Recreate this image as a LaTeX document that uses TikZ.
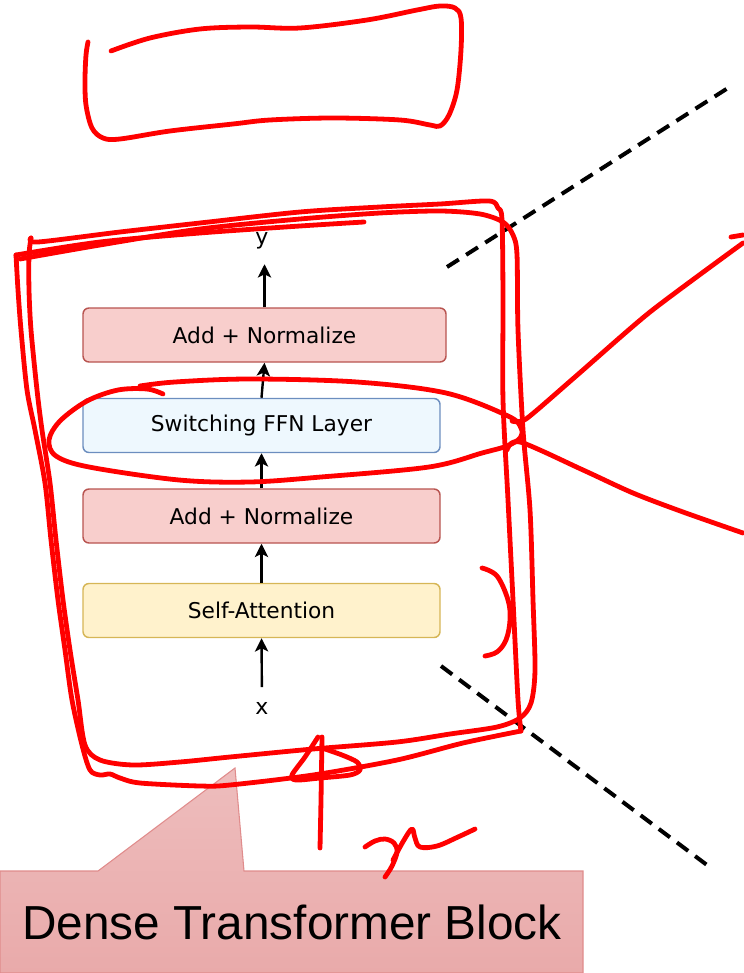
\documentclass[tikz,border=0pt]{standalone}
\usepackage{fontspec}
\setmainfont{DejaVu Sans}
\newfontfamily\calloutfont{Liberation Sans}
\usetikzlibrary{arrows.meta}

\definecolor{normfill}{HTML}{F8CECC}
\definecolor{normdraw}{HTML}{B85450}
\definecolor{ffnfill}{HTML}{EEF8FE}
\definecolor{ffndraw}{HTML}{6C8EBF}
\definecolor{attfill}{HTML}{FFF2CC}
\definecolor{attdraw}{HTML}{D6B656}
\definecolor{calltop}{HTML}{EEBDBD}
\definecolor{callbot}{HTML}{E9AAAA}
\definecolor{calldraw}{HTML}{E08C8C}
\definecolor{ink}{HTML}{FF0000}

\tikzset{
  layerbox/.style={rounded corners=4.5pt, line width=1.1pt, inner sep=0pt,
    minimum width=267.75pt, minimum height=40.5pt,
    font=\fontsize{16.3}{19}\selectfont},
  normbox/.style={layerbox, fill=normfill, draw=normdraw},
  ffnbox/.style={layerbox, fill=ffnfill, draw=ffndraw},
  attbox/.style={layerbox, fill=attfill, draw=attdraw},
  iolabel/.style={inner sep=0pt, font=\fontsize{16.5}{19}\selectfont},
  flow/.style={line width=1.8pt, -{Stealth[length=10pt, width=10pt, inset=2.5pt]}},
  zoomline/.style={line width=3pt, dash pattern=on 10.5pt off 6.5pt},
  inkstroke/.style={draw=ink, line width=3.6pt, line cap=round, line join=round},
}

\begin{document}
\begin{tikzpicture}[x=0.75pt, y=-0.75pt]
\useasboundingbox (0,0) rectangle (743,973);

% transformer block layers
\node[normbox, minimum width=272.25pt] (norm1) at (264.5,335) {Add + Normalize};
\node[ffnbox] (ffn) at (261.5,425.5) {Switching FFN Layer};
\node[normbox] (norm2) at (261.5,516) {Add + Normalize};
\node[attbox] (att) at (261.5,610.5) {Self-Attention};
\node[iolabel] (yout) at (262,241) {y};
\node[iolabel] (xin) at (262,708) {x};

\draw[flow, shorten <=11pt] (xin.north) -- (att.south);
\draw[flow] (att.north) -- (norm2.south);
\draw[flow] (norm2.north) -- (ffn.south);
\draw[flow] (ffn.north) -- (norm1.south);
\draw[flow, shorten >=11pt] (norm1.north) -- (norm1.north |- yout.south);

% zoom guide lines
\coordinate (zu0) at (447,267);
\coordinate (zu1) at (728,88);
\coordinate (zl0) at (441,666);
\coordinate (zl1) at (707,865);
\draw[zoomline] (zu0) -- (zu1);
\draw[zoomline] (zl0) -- (zl1);

% callout
\path[draw=calldraw, line width=0.8pt, top color=calltop, bottom color=callbot]
  (0,871) -- (98,871) -- (235,768) -- (244,871) -- (583,871) -- (583,973) -- (0,973) -- cycle;
\node[inner sep=0pt, font=\calloutfont\fontsize{35.8}{40}\selectfont] (callout) at (292,922) {Dense Transformer Block};

% hand-drawn annotations
\draw[inkstroke] plot[smooth, tension=0.55] coordinates {
  (111,51) (150,38) (200,29) (250,27) (300,28) (367,20) (417,10) (440,6) (455,8)
  (461,18) (461,50) (457,90) (449,115) (440,126) (430,125) (400,120) (333,118)
  (270,120) (233,124) (170,131) (120,139) (103,138) (92,128) (86,105) (85,80)
  (86,55) (88,42)};

\draw[inkstroke] plot[smooth, tension=0.5] coordinates {
  (20,259) (100,245) (200,229) (300,219) (380,213) (440,211) (480,214) (503,222)
  (513,235) (517,255) (518,330) (523,430) (530,510) (533,600) (535,670) (531,703)
  (520,718) (497,727) (450,734) (397,742) (313,749) (230,757) (180,762) (133,765)
  (100,760) (85,745) (78,700) (70,650) (63,600) (56,540) (50,483) (42,430)
  (37,390) (31,330) (29,290) (29,255) (31,238)};

\draw[inkstroke] plot[smooth, tension=0.5] coordinates {
  (31,238) (38,242) (120,232) (200,223) (300,212) (380,207) (440,204) (489,201)
  (498,208) (502,220) (503,300) (503,400) (508,500) (513,600) (518,700) (521,731)};
\draw[inkstroke] plot[smooth, tension=0.5] coordinates {
  (521,731) (463,743) (397,760) (313,775) (230,785) (200,786) (140,783) (120,778)
  (110,774) (100,775) (90,770) (82,745) (72,700) (65,650) (58,600) (51,540)
  (45,483) (35,430) (27,390) (21,330) (18,290) (16,255)};
\draw[inkstroke] plot[smooth, tension=0.5] coordinates {
  (16,255) (100,242) (200,233) (300,226) (364,222)};

% ellipse round the FFN layer
\draw[inkstroke] plot[smooth, tension=0.55] coordinates {
  (163,394) (147,389) (118,390) (87,401) (60,421) (49,440) (56,456) (89,467)
  (179,480) (250,482) (321,477) (429,467) (482,453) (507,446) (520,438) (521,428)
  (508,416) (446,393) (357,382) (250,379) (175,382) (140,386)};
\draw[inkstroke] plot[smooth, tension=0.4] coordinates {
  (512,421) (526,419) (575,377) (650,312) (743,243)};
\draw[inkstroke] (731,237) -- (743,235);
\draw[inkstroke] plot[smooth, tension=0.5] coordinates {
  (507,450) (520,442) (583,470) (633,493) (683,512) (743,533)};

% bracket beside the attention layer
\draw[inkstroke] plot[smooth, tension=0.6] coordinates {
  (482,568) (497,576) (508,600) (510,620) (506,640) (497,652) (485,656)};

% arrow and mark under the block
\draw[inkstroke] plot[smooth, tension=0.5] coordinates {(320,848) (321,800) (322,737)};
\draw[inkstroke] plot[smooth, tension=0.5] coordinates {
  (318,737) (305,757) (292,775) (296,780) (320,778) (350,775) (360,770)
  (357,762) (342,755) (322,748)};
\draw[inkstroke] plot[smooth, tension=0.6] coordinates {
  (365,847) (375,841) (385,839) (394,843) (397,852) (392,866) (385,877)};
\draw[inkstroke] plot[smooth, tension=0.6] coordinates {
  (393,860) (404,840) (412,829) (415,838) (420,847) (437,846) (458,837) (475,829)};
\end{tikzpicture}
\end{document}
